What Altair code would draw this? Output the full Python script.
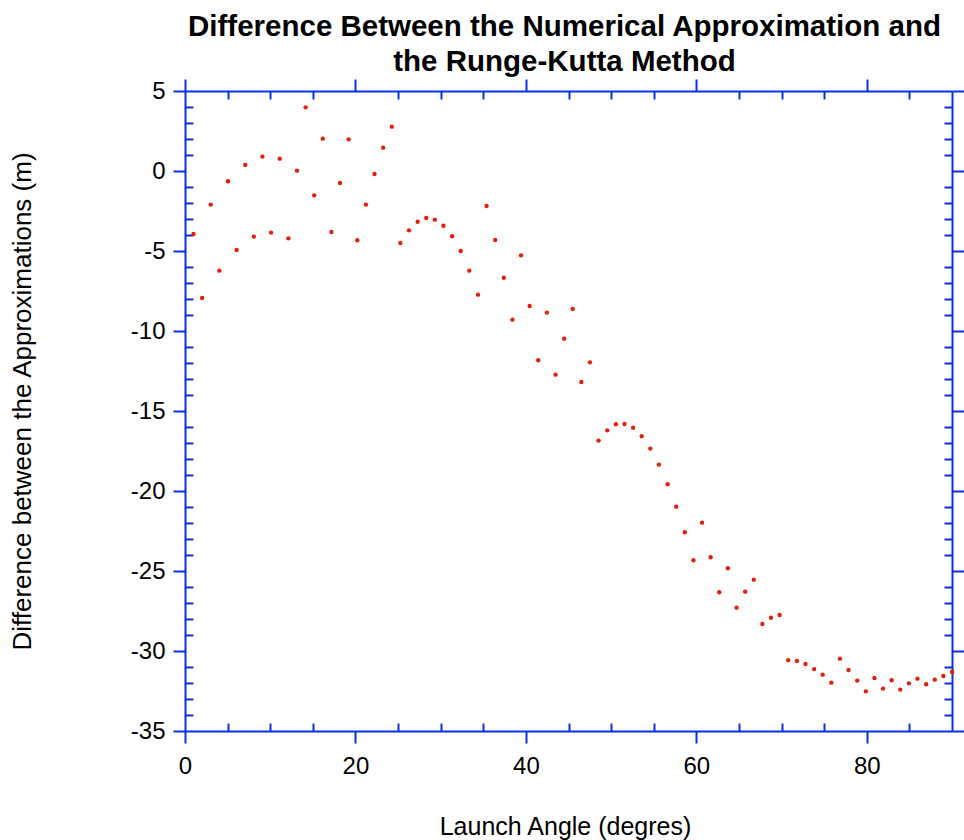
import altair as alt
import pandas as pd

# Launch angle (degrees) and difference (m)
angle = [1.00, 2.01, 3.02, 4.03, 5.05, 6.06, 7.07, 8.08, 9.09, 10.10,
         11.11, 12.13, 13.14, 14.15, 15.16, 16.17, 17.18, 18.19, 19.20, 20.22,
         21.23, 22.24, 23.25, 24.26, 25.27, 26.28, 27.30, 28.31, 29.32, 30.33,
         31.34, 32.35, 33.36, 34.38, 35.39, 36.40, 37.41, 38.42, 39.43, 40.44,
         41.45, 42.47, 43.48, 44.49, 45.50, 46.51, 47.52, 48.53, 49.55, 50.56,
         51.57, 52.58, 53.59, 54.60, 55.61, 56.63, 57.64, 58.65, 59.66, 60.67,
         61.68, 62.69, 63.70, 64.72, 65.73, 66.74, 67.75, 68.76, 69.77, 70.78,
         71.80, 72.81, 73.82, 74.83, 75.84, 76.85, 77.86, 78.88, 79.89, 80.90,
         81.91, 82.92, 83.93, 84.94, 85.95, 86.97, 87.98, 88.99, 90.00]

difference = [-3.94, -7.94, -2.10, -6.23, -0.64, -4.94, 0.38, -4.10, 0.90, -3.85,
              0.77, -4.21, 0.02, 3.98, -1.52, 2.02, -3.81, -0.75, 1.98, -4.33,
              -2.10, -0.19, 1.46, 2.77, -4.50, -3.71, -3.17, -2.94, -3.04, -3.42,
              -4.08, -5.00, -6.23, -7.73, -2.19, -4.31, -6.67, -9.29, -5.27, -8.44,
              -11.83, -8.85, -12.73, -10.48, -8.62, -13.19, -11.96, -16.85, -16.21, -15.83,
              -15.81, -16.04, -16.58, -17.35, -18.35, -19.58, -20.98, -22.58, -24.33, -21.98,
              -24.14, -26.33, -24.83, -27.29, -26.29, -25.54, -28.31, -27.92, -27.75, -30.58,
              -30.62, -30.81, -31.13, -31.48, -31.98, -30.48, -31.19, -31.85, -32.52, -31.69,
              -32.35, -31.83, -32.41, -32.02, -31.73, -32.08, -31.79, -31.56, -31.31]

x_major = [0, 20, 40, 60, 80]
x_minor = [5, 10, 15, 25, 30, 35, 45, 50, 55, 65, 70, 75, 85]
y_major = [5, 0, -5, -10, -15, -20, -25, -30, -35]
y_minor = [4, 3, 2, 1, -1, -2, -3, -4, -6, -7, -8, -9, -11, -12, -13, -14,
           -16, -17, -18, -19, -21, -22, -23, -24, -26, -27, -28, -29,
           -31, -32, -33, -34]

df = pd.DataFrame({"angle": angle, "diff": difference})

BLUE = "#0b2fe0"
FONT = "Liberation Sans"
W, H = 767, 640

xs = alt.Scale(domain=[0, 90], nice=False, zero=False)
ys = alt.Scale(domain=[-35, 5], nice=False, zero=False)

common = dict(grid=False, tickColor=BLUE, tickWidth=2, domainColor=BLUE,
              domainWidth=2, labelFlush=False, labelOverlap=False)


def mirror(orient, values, size, offset, domain):
    return alt.Axis(orient=orient, values=values, tickSize=size, offset=offset,
                    domain=domain, labels=False, title=None, **common)


points = alt.Chart(df).mark_circle(size=19, color="#e0200c", opacity=1).encode(
    x=alt.X("angle:Q", scale=xs, axis=alt.Axis(
        orient="bottom", values=x_major, tickSize=12, domain=True,
        labelFont=FONT, labelFontSize=24, labelColor="black", labelPadding=11,
        labelExpr="'' + datum.value",
        title="Launch Angle (degres)", titleFont=FONT, titleFontSize=25,
        titleFontWeight="normal", titleColor="black",
        titleX=380, titleY=103, titleBaseline="alphabetic", titleAlign="center",
        **common)),
    y=alt.Y("diff:Q", scale=ys, axis=alt.Axis(
        orient="left", values=y_major, tickSize=12, domain=True,
        labelFont=FONT, labelFontSize=24, labelColor="black", labelPadding=8,
        labelExpr="'' + datum.value",
        title="Difference between the Approximations (m)", titleFont=FONT,
        titleFontSize=26, titleFontWeight="normal", titleColor="black",
        titleAngle=-90, titleX=-155, titleY=310, titleBaseline="alphabetic",
        titleAlign="center",
        **common)),
)

minor_bl = alt.Chart(df).mark_circle(opacity=0).encode(
    x=alt.X("angle:Q", scale=xs, axis=mirror("bottom", x_minor, 8, -8, False)),
    y=alt.Y("diff:Q", scale=ys, axis=mirror("left", y_minor, 8, -8, False)),
)

major_tr = alt.Chart(df).mark_circle(opacity=0).encode(
    x=alt.X("angle:Q", scale=xs, axis=mirror("top", x_major, 12, 0, True)),
    y=alt.Y("diff:Q", scale=ys, axis=mirror("right", y_major, 12, 0, True)),
)

minor_tr = alt.Chart(df).mark_circle(opacity=0).encode(
    x=alt.X("angle:Q", scale=xs, axis=mirror("top", x_minor, 8, -8, False)),
    y=alt.Y("diff:Q", scale=ys, axis=mirror("right", y_minor, 8, -8, False)),
)

chart = alt.layer(minor_bl, major_tr, minor_tr, points).resolve_scale(
    x="independent", y="independent"
).resolve_axis(
    x="independent", y="independent"
).properties(
    width=W, height=H,
    autosize=alt.AutoSizeParams(type="none"),
    padding={"left": 185, "top": 91, "right": 12, "bottom": 109},
    title=alt.TitleParams(
        text=["Difference Between the Numerical Approximation and",
              "the Runge-Kutta Method"],
        font=FONT, fontSize=29.5, fontWeight="bold", color="black",
        anchor="middle", frame="group", dx=-4, lineHeight=35, offset=1,
    ),
).configure_view(stroke=None).configure(background="white")

chart.save("out.html", embed_options={"renderer": "svg", "actions": False})
